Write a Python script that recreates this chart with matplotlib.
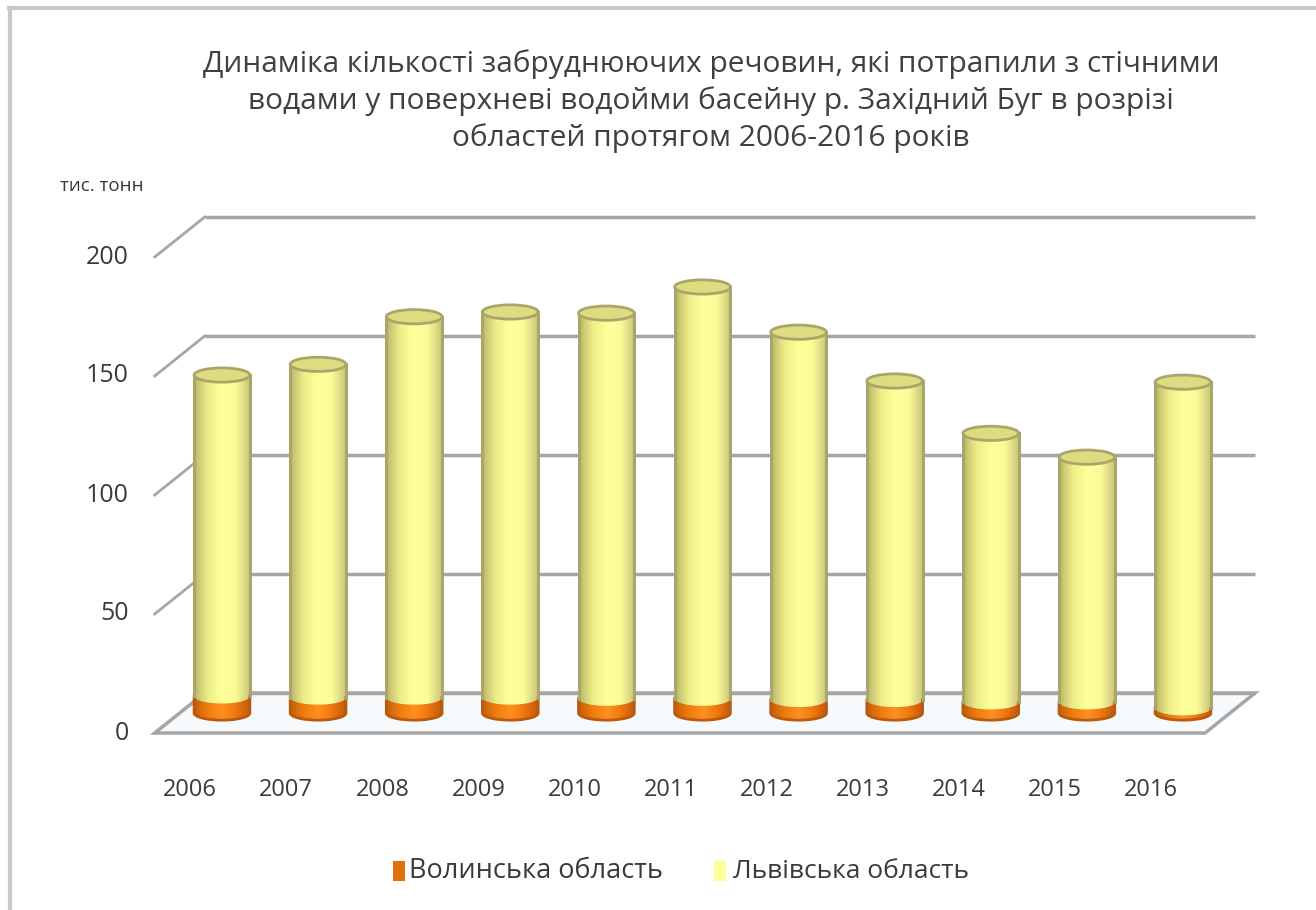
import numpy as np
import matplotlib
matplotlib.use('Agg')
import matplotlib.pyplot as plt
from matplotlib.patches import Polygon, Ellipse, Rectangle
from matplotlib.colors import LinearSegmentedColormap

plt.rcParams['font.family'] = ['Open Sans', 'DejaVu Sans']

# Values (thousand tonnes)
years = ['2006', '2007', '2008', '2009', '2010', '2011', '2012', '2013', '2014', '2015', '2016']
volyn = [7, 6.5, 6.5, 6.5, 6, 6, 5.5, 5.5, 4.5, 4.5, 2]
lviv = [135, 140, 160, 162, 162, 173, 154.5, 134, 113, 103, 137]
yticks = [0, 50, 100, 150, 200]

title = ('Динаміка кількості забруднюючих речовин, які потрапили з стічними\n'
         'водами у поверхневі водойми басейну р. Західний Буг в розрізі\n'
         'областей протягом 2006-2016 років')
unit_label = 'тис. тонн'
series_names = ['Волинська область', 'Львівська область']

W, H = 1316, 910
fig = plt.figure(figsize=(W / 100, H / 100), dpi=100)

# axes placed by pixels so that bar i sits at x=i and value v maps linearly
px_left, px_right, px_top, px_bot = 140, 1270, 200, 760
x0_px, dx_px = 222, 96.1        # centre of first bar, spacing
y0_px, dy_px = 713, 2.38         # zero line (middle depth), px per unit
ax = fig.add_axes([px_left / W, 1 - px_bot / H, (px_right - px_left) / W, (px_bot - px_top) / H])
ax.axis('off')

# depth offsets (half depth) in data units
ox = 25 / dx_px
oy = 20 / dy_px
back_l, back_r = -0.18, 10.75
grid_c = '#a6a6a6'
text_c = '#3a3a3a'

# floor
floor = Polygon([(back_l, oy), (back_r, oy), (back_r - 2 * ox, -oy), (back_l - 2 * ox, -oy)],
                closed=True, facecolor='#f7fafd', edgecolor=grid_c, lw=2.5, zorder=1)
ax.add_patch(floor)

# back wall gridlines and side wall diagonals
for v in yticks:
    ax.plot([back_l, back_r], [v + oy, v + oy], color=grid_c, lw=2.5, zorder=1, solid_capstyle='butt')
    ax.plot([back_l - 2 * ox, back_l], [v - oy, v + oy], color=grid_c, lw=2.0, zorder=1)
    ax.text(back_l - 2 * ox - 0.27, v - oy, str(v), ha='right', va='center',
            fontsize=18, color=text_c)

fig.text(60 / W, 1 - 186 / H, unit_label, ha='left', va='center', fontsize=13.5, color=text_c)

# cylinders
bw = 0.58
eh = 6.0
yellow_cm = LinearSegmentedColormap.from_list('y', ['#b9b56c', '#eeee88', '#ffff9c', '#fbfb96', '#c8c47a'])
orange_cm = LinearSegmentedColormap.from_list('o', ['#c45e08', '#f07c10', '#ff9020', '#f07810', '#c05a08'])
grad = np.linspace(0, 1, 256).reshape(1, -1)


def cylinder(xc, yb, yt, cmap, edge, topc, bottom_edge):
    t = np.linspace(np.pi, 2 * np.pi, 60)
    bot = np.column_stack([xc + bw / 2 * np.cos(t), yb + eh / 2 * np.sin(t)])
    pts = np.vstack([bot, [[xc + bw / 2, yt], [xc - bw / 2, yt]]])
    body = Polygon(pts, closed=True, facecolor='none', edgecolor='none', zorder=3)
    ax.add_patch(body)
    im = ax.imshow(grad, cmap=cmap, aspect='auto', zorder=2.9,
                   extent=(xc - bw / 2, xc + bw / 2, yb - eh, yt + eh))
    im.set_clip_path(body)
    if bottom_edge:
        ax.plot(np.r_[xc - bw / 2, bot[:, 0], xc + bw / 2], np.r_[yt, bot[:, 1], yt],
                color=edge, lw=2, zorder=3.1)
    else:
        ax.plot([xc - bw / 2] * 2, [yb, yt], color=edge, lw=2.2, zorder=3.1)
        ax.plot([xc + bw / 2] * 2, [yb, yt], color=edge, lw=2.2, zorder=3.1)
    if topc is not None:
        ax.add_patch(Ellipse((xc, yt), bw, eh, facecolor=topc, edgecolor=edge, lw=2, zorder=4))


for i in range(len(years)):
    cylinder(i, 0, volyn[i], orange_cm, '#b85a10', None, True)
    cylinder(i, volyn[i], volyn[i] + lviv[i], yellow_cm, '#aaa66a', '#dedc80', False)
    ax.text(i - ox - 0.07, -oy - (790 - 733) / dy_px, years[i], ha='center', va='center',
            fontsize=17, color=text_c)

ax.set_xlim((px_left - x0_px) / dx_px, (px_right - x0_px) / dx_px)
ax.set_ylim((y0_px - px_bot) / dy_px, (y0_px - px_top) / dy_px)

# title
fig.text(711 / W, 1 - 101 / H, title, ha='center', va='center', fontsize=21.5,
         color='#404040', linespacing=1.32)

# legend
fig.patches.append(Rectangle((393 / W, 1 - 881 / H), 12 / W, 20 / H, transform=fig.transFigure,
                             facecolor='#e0700c', edgecolor='none'))
fig.text(409 / W, 1 - 871 / H, series_names[0], ha='left', va='center', fontsize=19.5, color=text_c)
fig.patches.append(Rectangle((714 / W, 1 - 881 / H), 12 / W, 20 / H, transform=fig.transFigure,
                             facecolor='#ffff99', edgecolor='none'))
fig.text(733 / W, 1 - 871 / H, series_names[1], ha='left', va='center', fontsize=19, color=text_c)

# light frame on top and left edges
fig.lines.append(plt.Line2D([9 / W, 1], [1 - 8 / H, 1 - 8 / H], transform=fig.transFigure,
                            color='#c8c8c8', lw=3))
fig.lines.append(plt.Line2D([10 / W, 10 / W], [0, 1 - 8 / H], transform=fig.transFigure,
                            color='#c8c8c8', lw=3))

fig.savefig('out.png', dpi=100, facecolor='white')
